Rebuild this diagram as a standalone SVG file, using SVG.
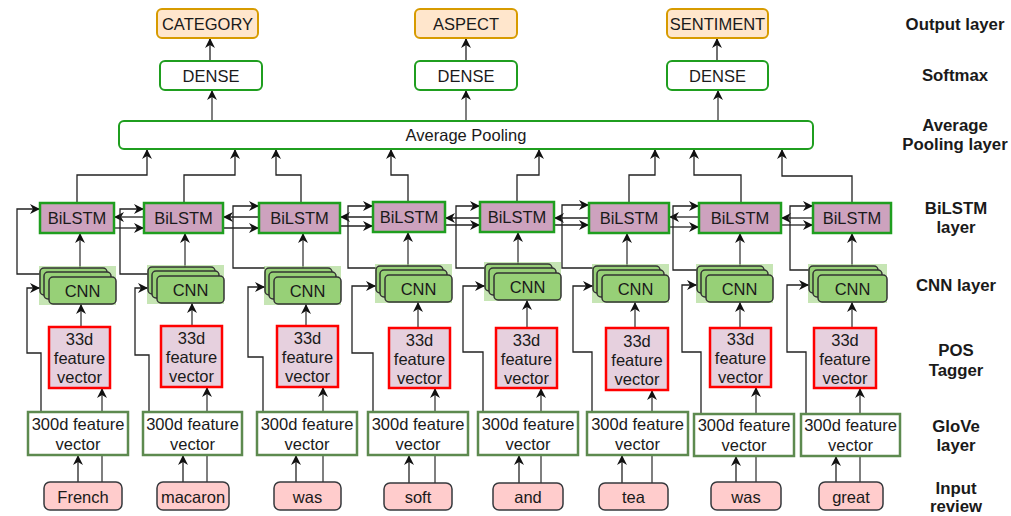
<svg xmlns="http://www.w3.org/2000/svg" width="1011" height="516" viewBox="0 0 1011 516">
<style>
text{font-family:"Liberation Sans",Arial,sans-serif;font-size:16.5px;fill:#1a1a1a;text-anchor:middle;dominant-baseline:central}
.lbl{font-weight:bold;font-size:16.8px}
.out{fill:#ffe6cc;stroke:#d79b00;stroke-width:2}
.dense{fill:#fff;stroke:#1f9e1f;stroke-width:2}
.bil{fill:#cda2be;stroke:#1f9e1f;stroke-width:2.5}
.cnnbg{fill:#97d077;opacity:.55}
.cnn{fill:#97d077;stroke:#333;stroke-width:1.5}
.pos{fill:#e6d0de;stroke:#ff0000;stroke-width:2.5}
.glove{fill:#fff;stroke:#5d8a4f;stroke-width:2.5}
.word{fill:#ffcccc;stroke:#36393d;stroke-width:1.5}
.ca{fill:none;stroke:#222;stroke-width:1.3;marker-end:url(#arr)}
.cg{fill:none;stroke:#555;stroke-width:1.5;marker-end:url(#arr)}
</style>
<defs>
<marker id="arr" viewBox="0 0 10 10" refX="10" refY="5" markerWidth="10" markerHeight="10" markerUnits="userSpaceOnUse" orient="auto">
<path d="M0,0 L10,5 L0,10 L3,5 Z" fill="#111"/>
</marker>
</defs>

<g id="connectors">
<path class="ca" d="M210,61 V38"/>
<path class="ca" d="M466,61 V38"/>
<path class="ca" d="M717,61 V38"/>
<path class="cg" d="M212,121 V90"/>
<path class="cg" d="M466,121 V90"/>
<path class="cg" d="M718,121 V90"/>
<path class="ca" d="M77,203 V175 H147 V149"/>
<path class="ca" d="M184,203 V175 H235 V149"/>
<path class="ca" d="M301,203 V175 H276 V149"/>
<path class="ca" d="M408,202 V175 H391 V149"/>
<path class="ca" d="M517,202 V175 H539 V149"/>
<path class="ca" d="M629,203 V175 H655 V149"/>
<path class="ca" d="M741,203 V175 H694 V149"/>
<path class="ca" d="M852,203 V176 H782 V149"/>
<path class="ca" d="M114,228 H144"/><path class="ca" d="M144,217 H114"/>
<path class="ca" d="M223,228 H259"/><path class="ca" d="M259,217 H223"/>
<path class="ca" d="M340,226 H373"/><path class="ca" d="M373,217 H340"/>
<path class="ca" d="M445,225 H480"/><path class="ca" d="M480,218 H445"/>
<path class="ca" d="M554,225 H589"/><path class="ca" d="M589,218 H554"/>
<path class="ca" d="M669,227 H699"/><path class="ca" d="M699,217 H669"/>
<path class="ca" d="M781,225 H813"/><path class="ca" d="M813,218 H781"/>
<path class="ca" d="M40,274 H17 V209 H40"/>
<path class="ca" d="M148,274 H120 V209 H144"/>
<path class="ca" d="M265,268 H233 V206 H259"/>
<path class="ca" d="M376,268 H348 V206 H373"/>
<path class="ca" d="M485,268 H456 V206 H480"/>
<path class="ca" d="M593,268 H562 V205 H589"/>
<path class="ca" d="M697,270 H673 V206 H699"/>
<path class="ca" d="M809,270 H790 V206 H813"/>
<path class="cg" d="M80,268 V233"/>
<path class="cg" d="M185,267 V233"/>
<path class="cg" d="M303,268 V233"/>
<path class="cg" d="M408,266 V232"/>
<path class="cg" d="M518,264 V232"/>
<path class="cg" d="M627,266 V233"/>
<path class="cg" d="M740,266 V233"/>
<path class="cg" d="M852,266 V233"/>
<path class="cg" d="M81,327 V304"/>
<path class="cg" d="M192,326 V303"/>
<path class="cg" d="M306,326 V304"/>
<path class="cg" d="M418,328 V302"/>
<path class="cg" d="M527,328 V300"/>
<path class="cg" d="M635,328 V302"/>
<path class="cg" d="M740,328 V302"/>
<path class="cg" d="M852,328 V302"/>
<path class="ca" d="M41,412 V353 H27 V288 H40"/>
<path class="ca" d="M149,412 V355 H135 V288 H148"/>
<path class="ca" d="M263,412 V357 H248 V287 H265"/>
<path class="ca" d="M373,412 V353 H352 V286 H376"/>
<path class="ca" d="M483,412 V352 H463 V286 H485"/>
<path class="ca" d="M592,412 V352 H573 V286 H593"/>
<path class="ca" d="M701,414 V352 H682 V285 H697"/>
<path class="ca" d="M806,414 V352 H787 V285 H809"/>
<path class="cg" d="M102,482 V388"/>
<path class="cg" d="M207,482 V387"/>
<path class="cg" d="M323,482 V387"/>
<path class="cg" d="M435,483 V388"/>
<path class="cg" d="M541,483 V388"/>
<path class="cg" d="M652,483 V390"/>
<path class="cg" d="M756,482 V387"/>
<path class="cg" d="M860,482 V388"/>
<path class="ca" d="M78,482 V455"/>
<path class="ca" d="M183,482 V455"/>
<path class="ca" d="M296,482 V455"/>
<path class="ca" d="M409,483 V455"/>
<path class="ca" d="M519,483 V455"/>
<path class="ca" d="M622,483 V455"/>
<path class="ca" d="M736,482 V456"/>
<path class="ca" d="M836,482 V456"/>
</g>

<g id="out-category"><rect class="out" x="157" y="9" width="101" height="29" rx="5"/><text x="207.5" y="24">CATEGORY</text></g>
<g id="out-aspect"><rect class="out" x="415" y="9" width="102" height="29" rx="5"/><text x="466" y="24">ASPECT</text></g>
<g id="out-sentiment"><rect class="out" x="667" y="9" width="101" height="29" rx="5"/><text x="717.5" y="24">SENTIMENT</text></g>

<g id="dense-1"><rect class="dense" x="160" y="61" width="102" height="29" rx="5"/><text x="211" y="76">DENSE</text></g>
<g id="dense-2"><rect class="dense" x="415" y="61" width="102" height="29" rx="5"/><text x="466" y="76">DENSE</text></g>
<g id="dense-3"><rect class="dense" x="667" y="61" width="101" height="29" rx="5"/><text x="717.5" y="76">DENSE</text></g>

<g id="avg-pooling"><rect class="dense" x="119" y="121" width="694" height="28" rx="5"/><text x="466" y="135">Average Pooling</text></g>

<g id="bilstm-1"><rect class="bil" x="40" y="203" width="74" height="30"/><text x="77" y="218">BiLSTM</text></g>
<g id="bilstm-2"><rect class="bil" x="144" y="203" width="79" height="30"/><text x="183.5" y="218">BiLSTM</text></g>
<g id="bilstm-3"><rect class="bil" x="259" y="203" width="81" height="30"/><text x="299.5" y="218">BiLSTM</text></g>
<g id="bilstm-4"><rect class="bil" x="373" y="202" width="72" height="30"/><text x="409" y="217">BiLSTM</text></g>
<g id="bilstm-5"><rect class="bil" x="480" y="202" width="74" height="30"/><text x="517" y="217">BiLSTM</text></g>
<g id="bilstm-6"><rect class="bil" x="589" y="203" width="80" height="30"/><text x="629" y="218">BiLSTM</text></g>
<g id="bilstm-7"><rect class="bil" x="699" y="203" width="82" height="30"/><text x="740" y="218">BiLSTM</text></g>
<g id="bilstm-8"><rect class="bil" x="813" y="203" width="78" height="30"/><text x="852" y="218">BiLSTM</text></g>

<g id="cnn-1"><rect class="cnnbg" x="39" y="266" width="77" height="39"/><rect class="cnn" x="40" y="268" width="67" height="27" rx="4"/><rect class="cnn" x="44" y="272" width="67" height="27" rx="4"/><rect class="cnn" x="49" y="277" width="67" height="27" rx="4"/><text x="82.5" y="290.5">CNN</text></g>
<g id="cnn-2"><rect class="cnnbg" x="147" y="265" width="77" height="39"/><rect class="cnn" x="148" y="267" width="67" height="27" rx="4"/><rect class="cnn" x="152" y="271" width="67" height="27" rx="4"/><rect class="cnn" x="157" y="276" width="67" height="27" rx="4"/><text x="190.5" y="289.5">CNN</text></g>
<g id="cnn-3"><rect class="cnnbg" x="264" y="266" width="77" height="39"/><rect class="cnn" x="265" y="268" width="67" height="27" rx="4"/><rect class="cnn" x="269" y="272" width="67" height="27" rx="4"/><rect class="cnn" x="274" y="277" width="67" height="27" rx="4"/><text x="307.5" y="290.5">CNN</text></g>
<g id="cnn-4"><rect class="cnnbg" x="375" y="264" width="77" height="39"/><rect class="cnn" x="376" y="266" width="67" height="27" rx="4"/><rect class="cnn" x="380" y="270" width="67" height="27" rx="4"/><rect class="cnn" x="385" y="275" width="67" height="27" rx="4"/><text x="418.5" y="288.5">CNN</text></g>
<g id="cnn-5"><rect class="cnnbg" x="484" y="262" width="77" height="39"/><rect class="cnn" x="485" y="264" width="67" height="27" rx="4"/><rect class="cnn" x="489" y="268" width="67" height="27" rx="4"/><rect class="cnn" x="494" y="273" width="67" height="27" rx="4"/><text x="527.5" y="286.5">CNN</text></g>
<g id="cnn-6"><rect class="cnnbg" x="592" y="264" width="77" height="39"/><rect class="cnn" x="593" y="266" width="67" height="27" rx="4"/><rect class="cnn" x="597" y="270" width="67" height="27" rx="4"/><rect class="cnn" x="602" y="275" width="67" height="27" rx="4"/><text x="635.5" y="288.5">CNN</text></g>
<g id="cnn-7"><rect class="cnnbg" x="696" y="264" width="77" height="39"/><rect class="cnn" x="697" y="266" width="67" height="27" rx="4"/><rect class="cnn" x="701" y="270" width="67" height="27" rx="4"/><rect class="cnn" x="706" y="275" width="67" height="27" rx="4"/><text x="739.5" y="288.5">CNN</text></g>
<g id="cnn-8"><rect class="cnnbg" x="808" y="264" width="79" height="39"/><rect class="cnn" x="809" y="266" width="69" height="27" rx="4"/><rect class="cnn" x="813" y="270" width="69" height="27" rx="4"/><rect class="cnn" x="818" y="275" width="69" height="27" rx="4"/><text x="852.5" y="288.5">CNN</text></g>

<g id="pos-1"><rect class="pos" x="49" y="327" width="61" height="61"/><text x="79.5" y="339">33d</text><text x="79.5" y="358">feature</text><text x="79.5" y="377">vector</text></g>
<g id="pos-2"><rect class="pos" x="161" y="326" width="61" height="61"/><text x="191.5" y="338">33d</text><text x="191.5" y="357">feature</text><text x="191.5" y="376">vector</text></g>
<g id="pos-3"><rect class="pos" x="277" y="326" width="61" height="61"/><text x="307.5" y="338">33d</text><text x="307.5" y="357">feature</text><text x="307.5" y="376">vector</text></g>
<g id="pos-4"><rect class="pos" x="389" y="328" width="61" height="60"/><text x="419.5" y="340">33d</text><text x="419.5" y="359">feature</text><text x="419.5" y="378">vector</text></g>
<g id="pos-5"><rect class="pos" x="496" y="328" width="61" height="60"/><text x="526.5" y="340">33d</text><text x="526.5" y="359">feature</text><text x="526.5" y="378">vector</text></g>
<g id="pos-6"><rect class="pos" x="606" y="328" width="62" height="62"/><text x="637" y="341">33d</text><text x="637" y="360">feature</text><text x="637" y="379">vector</text></g>
<g id="pos-7"><rect class="pos" x="710" y="328" width="61" height="59"/><text x="740.5" y="339">33d</text><text x="740.5" y="358">feature</text><text x="740.5" y="377">vector</text></g>
<g id="pos-8"><rect class="pos" x="814" y="328" width="62" height="60"/><text x="845" y="340">33d</text><text x="845" y="359">feature</text><text x="845" y="378">vector</text></g>

<g id="glove-1"><rect class="glove" x="28" y="412" width="100" height="43"/><text x="78" y="424">300d feature</text><text x="78" y="444">vector</text></g>
<g id="glove-2"><rect class="glove" x="143" y="412" width="99" height="43"/><text x="192.5" y="424">300d feature</text><text x="192.5" y="444">vector</text></g>
<g id="glove-3"><rect class="glove" x="257" y="412" width="100" height="43"/><text x="307" y="424">300d feature</text><text x="307" y="444">vector</text></g>
<g id="glove-4"><rect class="glove" x="368" y="412" width="100" height="43"/><text x="418" y="424">300d feature</text><text x="418" y="444">vector</text></g>
<g id="glove-5"><rect class="glove" x="478" y="412" width="100" height="43"/><text x="528" y="424">300d feature</text><text x="528" y="444">vector</text></g>
<g id="glove-6"><rect class="glove" x="587" y="412" width="101" height="43"/><text x="637.5" y="424">300d feature</text><text x="637.5" y="444">vector</text></g>
<g id="glove-7"><rect class="glove" x="694" y="414" width="100" height="42"/><text x="744" y="425">300d feature</text><text x="744" y="445">vector</text></g>
<g id="glove-8"><rect class="glove" x="801" y="414" width="99" height="42"/><text x="850.5" y="425">300d feature</text><text x="850.5" y="445">vector</text></g>

<g id="word-1"><rect class="word" x="44" y="482" width="78" height="28" rx="6"/><text x="83" y="497">French</text></g>
<g id="word-2"><rect class="word" x="157" y="482" width="72" height="28" rx="6"/><text x="193" y="497">macaron</text></g>
<g id="word-3"><rect class="word" x="274" y="482" width="67" height="28" rx="6"/><text x="307.5" y="497">was</text></g>
<g id="word-4"><rect class="word" x="384" y="483" width="68" height="27" rx="6"/><text x="418" y="497">soft</text></g>
<g id="word-5"><rect class="word" x="493" y="483" width="70" height="27" rx="6"/><text x="528" y="497">and</text></g>
<g id="word-6"><rect class="word" x="599" y="483" width="69" height="27" rx="6"/><text x="633.5" y="497">tea</text></g>
<g id="word-7"><rect class="word" x="711" y="482" width="70" height="28" rx="6"/><text x="746" y="497">was</text></g>
<g id="word-8"><rect class="word" x="819" y="482" width="64" height="28" rx="6"/><text x="851" y="497">great</text></g>

<g id="layer-labels">
<text class="lbl" x="955" y="24">Output layer</text>
<text class="lbl" x="955" y="75">Softmax</text>
<text class="lbl" x="955" y="125">Average</text>
<text class="lbl" x="955" y="144">Pooling layer</text>
<text class="lbl" x="956" y="208">BiLSTM</text>
<text class="lbl" x="956" y="227">layer</text>
<text class="lbl" x="956" y="285">CNN layer</text>
<text class="lbl" x="956" y="350">POS</text>
<text class="lbl" x="956" y="370">Tagger</text>
<text class="lbl" x="956" y="426">GloVe</text>
<text class="lbl" x="956" y="445">layer</text>
<text class="lbl" x="956" y="488">Input</text>
<text class="lbl" x="956" y="506">review</text>
</g>
</svg>
